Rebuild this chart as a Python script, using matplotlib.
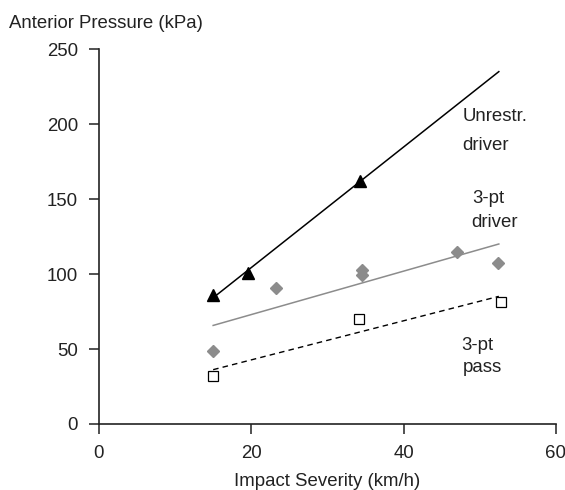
import numpy as np
import matplotlib.pyplot as plt

plt.rcParams['font.family'] = ['Liberation Sans', 'DejaVu Sans']

# Unrestrained driver
unr_x = [15.0, 19.6, 34.3]
unr_y = [86.0, 100.5, 162.5]
# 3-pt belted driver
drv_x = [15.0, 23.2, 34.5, 34.5, 47.0, 52.4]
drv_y = [48.5, 90.5, 103.0, 99.5, 115.0, 107.3]
# 3-pt belted passenger
pas_x = [15.0, 34.2, 52.8]
pas_y = [32.0, 70.0, 81.2]

fit_end = 52.5
fs = 13.4
tc = '#222222'

fig = plt.figure(figsize=(5.65, 4.9), dpi=100)
ax = fig.add_axes([0.175, 0.1347, 0.809, 0.7643])


def trend(x, y):
    k, b = np.polyfit(x, y, 1)
    xs = np.array([min(x), fit_end])
    return xs, k * xs + b


xs, ys = trend(unr_x, unr_y)
ax.plot(xs, ys, color='black', lw=1.1)
xs, ys = trend(drv_x, drv_y)
ax.plot(xs, ys, color='#8c8c8c', lw=1.1)
xs, ys = trend(pas_x, pas_y)
ax.plot(xs, ys, color='black', lw=1.0, ls=(0, (4, 3)))

ax.plot(unr_x, unr_y, '^', color='black', ms=9, zorder=3)
ax.plot(drv_x, drv_y, 'D', color='#8c8c8c', ms=6.5, zorder=3)
ax.plot(pas_x, pas_y, 's', mfc='white', mec='black', mew=0.9, ms=7, zorder=3)

labels = [('Unrestr.', 52.0, 205.6), ('driver', 50.7, 186.2),
          ('3-pt', 51.1, 150.7), ('driver', 51.9, 134.4),
          ('3-pt', 49.7, 52.7), ('pass', 50.4, 37.4)]
for s, x, y in labels:
    ax.text(x, y, s, ha='center', va='center', fontsize=fs, color=tc)

ax.set_xlim(0, 60)
ax.set_ylim(0, 250)
ax.set_xticks([0, 20, 40, 60])
ax.set_yticks([0, 50, 100, 150, 200, 250])
ax.tick_params(labelsize=fs, labelcolor=tc, length=7, width=1.1,
               color='#222222', pad=8)
for s in ['top', 'right']:
    ax.spines[s].set_visible(False)
for s in ['left', 'bottom']:
    ax.spines[s].set_linewidth(1.2)
    ax.spines[s].set_color('#222222')

ax.set_xlabel('Impact Severity (km/h)', fontsize=fs, color=tc, labelpad=8)
fig.text(0.016, 0.953, 'Anterior Pressure (kPa)', fontsize=fs, color=tc,
         ha='left', va='center')

fig.savefig('out.png', dpi=100)
